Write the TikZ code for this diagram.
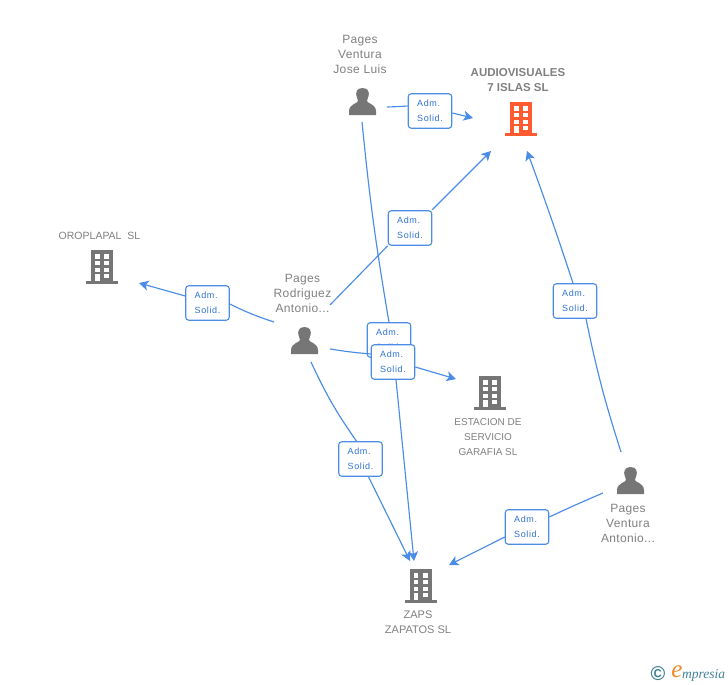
\documentclass[tikz,border=0pt]{standalone}
\usepackage{fontspec}
\setmainfont{Liberation Sans}
\newfontfamily\lblfont[LetterSpace=7]{Liberation Sans}
\newfontfamily\spfont[LetterSpace=3]{Liberation Sans}
\newfontfamily\logofont{Liberation Serif}
\usetikzlibrary{arrows.meta}
\definecolor{icongray}{HTML}{767676}
\definecolor{txtgray}{HTML}{808080}
\definecolor{orangeicon}{HTML}{FF5A30}
\definecolor{linkblue}{HTML}{4A8CE6}
\definecolor{lbltext}{HTML}{2F72D2}
\definecolor{logoteal}{HTML}{3F8296}
\definecolor{logoorange}{HTML}{F08A24}
\tikzset{
  x=1pt,y=-1pt,
  lbl/.style={draw=linkblue,line width=1.1pt,rounded corners=3pt,fill=white,minimum width=43.5pt,minimum height=34.5pt,inner sep=0pt,align=left,text=lbltext,font=\lblfont\fontsize{9}{15}\selectfont},
  link/.style={draw=linkblue,line width=1.15pt},
  arr/.style={link,-{Stealth[length=9.5pt,width=10pt,inset=2.5pt]}},
  txt/.style={text=txtgray,align=center,inner sep=0pt,font=\spfont\fontsize{12}{15}\selectfont},
  txts/.style={text=txtgray,align=center,inner sep=0pt,font=\fontsize{10}{15}\selectfont},
  pics/building/.style={code={
    \fill[#1] (-16,14) rectangle (16,17);
    \fill[#1] (-11,-17) rectangle (11,15);
    \foreach \yy/\hh in {-13/4.5,-6/4,0.5/4}{
      \foreach \xx in {-7,2.3}{
        \fill[white] (\xx,\yy) rectangle +(4.7,\hh);
      }
    }
    \fill[white] (2.3,6.5) rectangle +(4.7,4.2);
    \fill[white] (-7,7) rectangle (-2.3,14);
  }},
  pics/person/.style={code={
    \fill[icongray] (0,-14) .. controls (-6,-14) and (-7,-9) .. (-6,-6)
      .. controls (-5.5,-3.5) and (-4.5,-2.5) .. (-4.5,-1)
      .. controls (-4.5,1.5) and (-13,1.5) .. (-13.5,9) -- (-13.5,13) -- (13.5,13) -- (13.5,9)
      .. controls (13,1.5) and (4.5,1.5) .. (4.5,-1)
      .. controls (4.5,-2.5) and (5.5,-3.5) .. (6,-6)
      .. controls (7,-9) and (6,-14) .. (0,-14) -- cycle;
  }}
}
\begin{document}
\begin{tikzpicture}
\useasboundingbox (0,0) rectangle (728,685);
% icons
\pic at (521,119) {building=orangeicon};
\pic at (102,267) {building=icongray};
\pic at (490,393) {building=icongray};
\pic at (420.5,586) {building=icongray};
\pic at (362.5,102) {person};
\pic at (304.5,341) {person};
\pic at (630.5,481) {person};
% anchors
\coordinate (josea) at (387,107);
\coordinate (joseb) at (362,122);
\coordinate (roda) at (330,305);
\coordinate (rodb) at (274,322);
\coordinate (rodc) at (330,349);
\coordinate (rodd) at (311,362);
\coordinate (vena) at (621,452);
\coordinate (venb) at (603,493);
\coordinate (audia) at (473,118);
\coordinate (audib) at (491,151);
\coordinate (audic) at (527,151);
\coordinate (orot) at (139,283);
\coordinate (esta) at (456,379);
\coordinate (zapa) at (414,561);
\coordinate (zapb) at (410,561);
\coordinate (zapc) at (449,565);
% connectors
\node[lbl] (l1) at (430,111) {Adm.\\Solid.};
\node[lbl] (l3) at (410,228) {Adm.\\Solid.};
\node[lbl] (l4) at (575,301) {Adm.\\Solid.};
\node[lbl] (l5) at (207.5,303) {Adm.\\Solid.};
\node[lbl] (l7) at (360.5,459) {Adm.\\Solid.};
\node[lbl] (l8) at (527,527) {Adm.\\Solid.};
\node[lbl] (l2) at (389,340) {Adm.\\Solid.};
\node[lbl] (l6) at (393,362) {Adm.\\Solid.};
\draw[link] (josea) to[bend left=-1] ([yshift=5pt]l1.west);
\draw[arr] ([yshift=-2pt]l1.east) to (audia);
\draw[link] (joseb) to[bend left=-2] (l2.north);
\draw[link] (roda) -- (l3.south west);
\draw[arr] ([yshift=0.5pt]l3.north east) -- (audib);
\draw[link] (vena) to[bend left=3] ([xshift=11pt]l4.south);
\draw[arr] ([xshift=-2pt]l4.north) to[bend left=-1] (audic);
\draw[link] (rodb) to[bend left=4] ([yshift=-1pt]l5.east);
\draw[arr] ([yshift=7pt]l5.west) -- (orot);
\draw[link] (rodc) to[bend left=-2] ([yshift=8pt]l6.west);
\draw[arr] ([yshift=-5pt]l6.east) -- (esta);
\draw[link] (rodd) to[bend left=-5] ([xshift=-4pt]l7.north);
\draw[arr] ([xshift=8pt]l7.south) -- (zapb);
\draw[link] (venb) to[bend left=-1] ([yshift=10pt]l8.east);
\draw[arr] ([yshift=-10pt]l8.west) -- (zapc);
\draw[arr] ([xshift=3pt]l6.south) -- (zapa);
% labels
\node[txt] (n1) at (360,54.5) {Pages\\Ventura\\Jose Luis};
\node[text=txtgray,align=center,inner sep=0pt,font=\bfseries\fontsize{11.5}{15}\selectfont] (n2) at (518,80.5) {AUDIOVISUALES\\7 ISLAS SL};
\node[txts,font=\fontsize{10.5}{15}\selectfont] (n3) at (99.5,236) {OROPLAPAL\ \ SL};
\node[txt] (n4) at (302.5,293.5) {Pages\\Rodriguez\\Antonio...};
\node[txts] (n5) at (488,437.5) {ESTACION DE\\SERVICIO\\GARAFIA SL};
\node[txt] (n6) at (628,523.5) {Pages\\Ventura\\Antonio...};
\node[txts,font=\fontsize{11}{15}\selectfont] (n7) at (418,622.5) {ZAPS\\ZAPATOS SL};
% logo
\node[text=logoteal,inner sep=0pt,font=\bfseries\fontsize{20}{20}\selectfont] (c) at (658,674) {©};
\node[text=logoorange,inner sep=0pt,font=\logofont\itshape\fontsize{25}{25}\selectfont] (e) at (677,672) {e};
\node[text=logoteal,inner sep=0pt,anchor=west,font=\logofont\itshape\fontsize{13.5}{14}\selectfont] (m) at (682,675) {mpresia};
\end{tikzpicture}
\end{document}
